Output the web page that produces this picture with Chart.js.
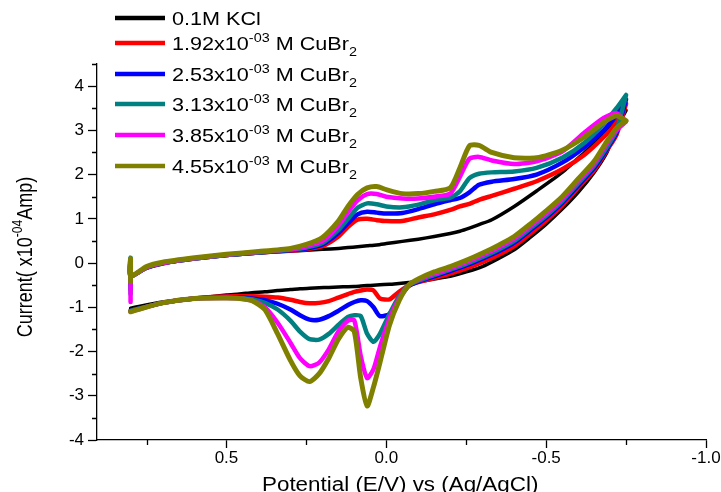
<!DOCTYPE html>
<html>
<head>
<meta charset="utf-8">
<title>CV CuBr2</title>
<script src="https://cdn.jsdelivr.net/npm/chart.js@4.4.1/dist/chart.umd.min.js"></script>
<style>
  html, body { margin: 0; padding: 0; background: #fff; }
  #wrap { width: 721px; height: 492px; }
</style>
</head>
<body>
<div id="wrap"><canvas id="cv" width="721" height="492"></canvas></div>
<script>
// potentials (V vs Ag/AgCl) for the forward sweep and the return sweep
const upperE = [0.8, 0.75, 0.7, 0.6, 0.5, 0.4, 0.3, 0.25, 0.2, 0.15, 0.12, 0.09, 0.06, 0.03, 0.0,
  -0.05, -0.1, -0.15, -0.2, -0.23, -0.26, -0.29, -0.33, -0.4, -0.47, -0.55, -0.62, -0.68, -0.72, -0.75];
const lowerE = [-0.75, -0.72, -0.69, -0.65, -0.6, -0.55, -0.5, -0.45, -0.4, -0.35, -0.3, -0.25, -0.2,
  -0.15, -0.1, -0.07, -0.04, -0.01, 0.02, 0.04, 0.06, 0.08, 0.1, 0.12, 0.15, 0.18, 0.21, 0.24, 0.27,
  0.3, 0.34, 0.38, 0.42, 0.46, 0.5, 0.6, 0.7, 0.8];

// current (x10^-4 A)
const kclUp = [-0.3, -0.12, -0.02, 0.1, 0.17, 0.23, 0.27, 0.29, 0.31, 0.33, 0.35, 0.37, 0.39, 0.41, 0.44,
  0.49, 0.54, 0.6, 0.67, 0.72, 0.79, 0.87, 0.98, 1.28, 1.63, 2.05, 2.5, 2.9, 3.2, 3.45];
const kclDown = [3.45, 3.05, 2.5, 2.05, 1.6, 1.22, 0.88, 0.58, 0.3, 0.1, -0.08, -0.2, -0.3, -0.36, -0.42,
  -0.44, -0.46, -0.48, -0.49, -0.5, -0.51, -0.52, -0.53, -0.535, -0.54, -0.55, -0.56, -0.57, -0.58,
  -0.6, -0.62, -0.65, -0.67, -0.7, -0.72, -0.8, -0.88, -1.02];

const cu192Up = [-0.3, -0.1, 0.0, 0.1, 0.18, 0.24, 0.28, 0.31, 0.38, 0.6, 0.82, 0.98, 1.0, 0.97, 0.95,
  0.95, 1.03, 1.1, 1.2, 1.28, 1.34, 1.43, 1.52, 1.68, 1.85, 2.12, 2.45, 2.85, 3.18, 3.6];
const cu192Down = [3.6, 2.9, 2.55, 2.1, 1.7, 1.3, 0.96, 0.66, 0.38, 0.18, 0.02, -0.12, -0.24, -0.34, -0.43,
  -0.5, -0.65, -0.82, -0.8, -0.62, -0.6, -0.62, -0.65, -0.7, -0.78, -0.86, -0.9, -0.91, -0.88,
  -0.83, -0.78, -0.76, -0.75, -0.75, -0.75, -0.8, -0.9, -1.08];

const cu253Up = [-0.3, -0.1, 0.0, 0.1, 0.18, 0.24, 0.29, 0.33, 0.42, 0.68, 0.9, 1.1, 1.16, 1.14, 1.12,
  1.13, 1.22, 1.33, 1.42, 1.47, 1.6, 1.77, 1.84, 1.9, 2.0, 2.27, 2.62, 3.0, 3.35, 3.7];
const cu253Down = [3.7, 2.95, 2.58, 2.15, 1.75, 1.36, 1.03, 0.74, 0.46, 0.26, 0.1, -0.05, -0.18, -0.3, -0.42,
  -0.52, -0.8, -1.15, -1.2, -1.0, -0.86, -0.84, -0.88, -0.95, -1.08, -1.2, -1.28, -1.28, -1.18,
  -1.05, -0.92, -0.84, -0.8, -0.78, -0.77, -0.8, -0.9, -1.08];

const cu313Up = [-0.3, -0.1, 0.0, 0.1, 0.18, 0.24, 0.3, 0.35, 0.45, 0.75, 1.0, 1.25, 1.35, 1.33, 1.28,
  1.26, 1.32, 1.42, 1.48, 1.62, 1.92, 2.02, 2.05, 2.07, 2.15, 2.38, 2.72, 3.15, 3.5, 3.8];
const cu313Down = [3.8, 3.0, 2.62, 2.2, 1.8, 1.4, 1.07, 0.78, 0.5, 0.3, 0.13, -0.02, -0.15, -0.27, -0.4,
  -0.5, -0.75, -1.15, -1.6, -1.78, -1.6, -1.2, -1.18, -1.22, -1.4, -1.6, -1.73, -1.72, -1.55,
  -1.3, -1.05, -0.9, -0.82, -0.79, -0.78, -0.8, -0.9, -1.08];

const cu385Up = [-0.3, -0.1, 0.0, 0.11, 0.19, 0.25, 0.31, 0.38, 0.5, 0.85, 1.15, 1.42, 1.56, 1.56, 1.5,
  1.46, 1.46, 1.5, 1.57, 1.95, 2.36, 2.4, 2.32, 2.24, 2.3, 2.52, 2.95, 3.28, 3.39, 3.2];
const cu385Down = [3.2, 3.0, 2.7, 2.25, 1.85, 1.45, 1.12, 0.83, 0.55, 0.35, 0.18, 0.02, -0.12, -0.24, -0.38,
  -0.5, -0.8, -1.25, -1.9, -2.4, -2.6, -2.1, -1.3, -1.3, -1.55, -1.95, -2.25, -2.33, -2.15,
  -1.8, -1.35, -1.0, -0.85, -0.8, -0.79, -0.8, -0.9, -1.1];

const cu455Up = [-0.3, -0.08, 0.02, 0.12, 0.2, 0.26, 0.33, 0.42, 0.58, 0.95, 1.28, 1.55, 1.7, 1.73, 1.66,
  1.57, 1.57, 1.62, 1.7, 2.15, 2.65, 2.66, 2.5, 2.38, 2.38, 2.55, 2.85, 3.18, 3.33, 3.22];
const cu455Down = [3.22, 3.05, 2.75, 2.3, 1.9, 1.5, 1.18, 0.88, 0.6, 0.4, 0.22, 0.06, -0.08, -0.2, -0.36,
  -0.5, -0.85, -1.4, -2.25, -2.8, -3.23, -2.6, -1.55, -1.45, -1.72, -2.15, -2.5, -2.68, -2.55,
  -2.2, -1.6, -1.05, -0.85, -0.8, -0.79, -0.8, -0.9, -1.1];

// switch-on transient at the start potential (0.8 V)
const spikeLow = [-0.3, -0.5, -0.6, -0.7, -0.88, -0.42];
const spikeHigh = [-0.3, 0.0, 0.05, 0.12, 0.05, 0.1];

const concLabels = ["1.92", "2.53", "3.13", "3.85", "4.55"];
const seriesColors = ["#000000", "#ff0000", "#0000ff", "#008080", "#ff00ff", "#808000"];
const upSweeps = [kclUp, cu192Up, cu253Up, cu313Up, cu385Up, cu455Up];
const downSweeps = [kclDown, cu192Down, cu253Down, cu313Down, cu385Down, cu455Down];

const FONT = "'Liberation Sans', Arial, sans-serif";

function legendParts(i) {
  if (i === 0) return [{ t: "0.1M KCl" }];
  return [{ t: concLabels[i - 1] + "x10" }, { t: "-03", sup: true }, { t: " M CuBr" }, { t: "2", sub: true }];
}

function richWidth(ctx, parts, size) {
  let w = 0;
  parts.forEach(function (p) {
    ctx.font = ((p.sup || p.sub) ? 12 : size) + "px " + FONT;
    w += ctx.measureText(p.t).width;
  });
  return w;
}

function drawRich(ctx, parts, x, y, size) {
  let cx = x;
  parts.forEach(function (p) {
    const small = p.sup || p.sub;
    ctx.font = (small ? 12 : size) + "px " + FONT;
    const dy = p.sup ? -8 : (p.sub ? 6 : 0);
    ctx.fillText(p.t, cx, y + dy);
    cx += ctx.measureText(p.t).width;
  });
}

function cvPoints(i) {
  const pts = [{ x: 0.8, y: spikeLow[i] }, { x: 0.8, y: spikeHigh[i] }];
  upperE.forEach(function (e, k) { pts.push({ x: e, y: upSweeps[i][k] }); });
  lowerE.forEach(function (e, k) { pts.push({ x: e, y: downSweeps[i][k] }); });
  return pts;
}

const legendRows = [18, 43, 74, 104, 135, 166];

const decorPlugin = {
  id: "decor",
  afterDraw: function (chart) {
    const ctx = chart.ctx;
    const xs = chart.scales.x, ys = chart.scales.y;
    const area = chart.chartArea;

    // minor ticks
    ctx.save();
    ctx.strokeStyle = "#000";
    ctx.lineWidth = 1.3;
    ctx.beginPath();
    for (let v = -3.5; v <= 4.5; v += 1) {
      const py = Math.round(ys.getPixelForValue(v)) + 0.5;
      ctx.moveTo(area.left - 5, py);
      ctx.lineTo(area.left, py);
    }
    [0.75, 0.25, -0.25, -0.75].forEach(function (v) {
      const px = Math.round(xs.getPixelForValue(v)) + 0.5;
      ctx.moveTo(px, area.bottom);
      ctx.lineTo(px, area.bottom + 5);
    });
    ctx.stroke();
    ctx.restore();

    // legend
    ctx.save();
    ctx.fillStyle = "#000";
    ctx.textBaseline = "alphabetic";
    legendRows.forEach(function (ry, i) {
      ctx.strokeStyle = seriesColors[i];
      ctx.lineWidth = 4.5;
      ctx.beginPath();
      ctx.moveTo(115, ry);
      ctx.lineTo(165, ry);
      ctx.stroke();
      ctx.save();
      ctx.translate(172, ry + 6.5);
      ctx.scale(1.2, 1);
      drawRich(ctx, legendParts(i), 0, 0, 18);
      ctx.restore();
    });

    // x title
    ctx.save();
    ctx.translate(262, 491);
    ctx.scale(1.12, 1);
    ctx.font = "20px " + FONT;
    ctx.fillText("Potential (E/V) vs (Ag/AgCl)", 0, 0);
    ctx.restore();

    // y title
    const yParts = [{ t: "Current( x10" }, { t: "-04", sup: true }, { t: "Amp)" }];
    ctx.save();
    ctx.translate(24, 257);
    ctx.rotate(-Math.PI / 2);
    ctx.scale(1, 1.2);
    const w = richWidth(ctx, yParts, 18);
    drawRich(ctx, yParts, -w / 2, 6.5, 18);
    ctx.restore();
    ctx.restore();
  }
};

const datasets = upSweeps.map(function (s, i) {
  return {
    label: i === 0 ? "0.1M KCl" : concLabels[i - 1] + "x10-03 M CuBr2",
    data: cvPoints(i),
    showLine: true,
    borderColor: seriesColors[i],
    backgroundColor: seriesColors[i],
    borderWidth: i === 0 ? 3.5 : (i === 5 ? 5 : 4.5),
    borderJoinStyle: "round",
    borderCapStyle: "round",
    pointRadius: 0,
    tension: 0.22,
    fill: false,
    order: 5 - i
  };
});

new Chart(document.getElementById("cv"), {
  type: "scatter",
  data: { datasets: datasets },
  options: {
    responsive: false,
    animation: false,
    layout: { padding: { left: 0, top: 64, right: 15, bottom: 0 } },
    plugins: { legend: { display: false }, tooltip: { enabled: false } },
    scales: {
      x: {
        type: "linear",
        reverse: true,
        min: -1.0,
        max: 0.905,
        ticks: {
          stepSize: 0.5,
          includeBounds: false,
          color: "#000",
          padding: 0,
          font: { family: FONT, size: 17 },
          callback: function (v) { return v.toFixed(1); }
        },
        grid: { drawOnChartArea: false, tickLength: 8, tickColor: "#000", tickWidth: 1.3 },
        border: { color: "#000", width: 1.3 },
        afterFit: function (s) { s.height = 52; }
      },
      y: {
        type: "linear",
        min: -4,
        max: 4.5,
        ticks: {
          stepSize: 1,
          includeBounds: false,
          color: "#000",
          padding: 4,
          font: { family: FONT, size: 17 }
        },
        grid: { drawOnChartArea: false, tickLength: 9, tickColor: "#000", tickWidth: 1.3 },
        border: { color: "#000", width: 1.3 },
        afterFit: function (s) { s.width = 97; }
      }
    }
  },
  plugins: [decorPlugin]
});
</script>
</body>
</html>
